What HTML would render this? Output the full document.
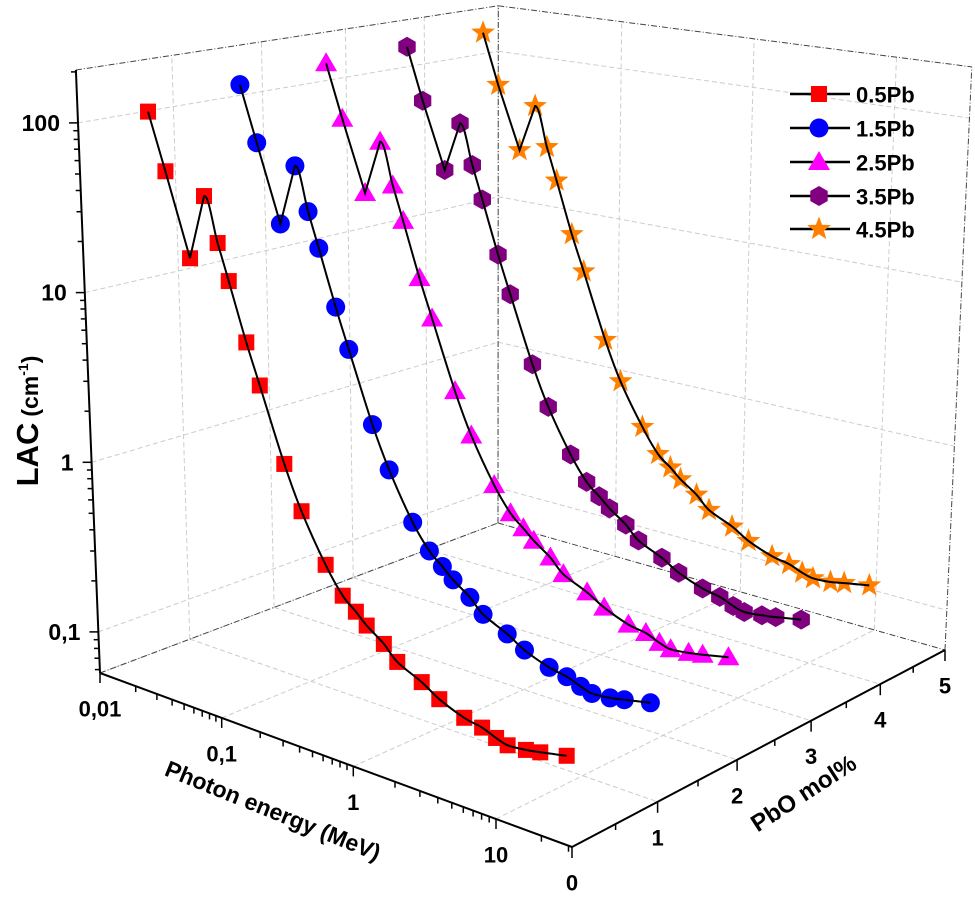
<!DOCTYPE html>
<html><head><meta charset="utf-8"><style>
html,body{margin:0;padding:0;background:#fff;}
svg{display:block;font-family:"Liberation Sans",Arial,sans-serif;}
</style></head><body>
<svg id="chart" width="975" height="901" viewBox="0 0 975 901" xmlns="http://www.w3.org/2000/svg">
<g id="grid"></g>
<g id="edges"></g>
<g id="axes"></g>
<g id="series"></g>
<g id="legend"></g>
<text transform="translate(38,421) rotate(-90)" text-anchor="middle" font-weight="bold"><tspan font-size="31">LAC</tspan><tspan font-size="23" dx="6">(cm</tspan><tspan font-size="14" dy="-10">-1</tspan><tspan font-size="23" dy="10">)</tspan></text>
<text transform="translate(270,818) rotate(22)" text-anchor="middle" font-weight="bold" font-size="23">Photon energy (MeV)</text>
<text transform="translate(808,800) rotate(-33)" text-anchor="middle" font-weight="bold" font-size="24">PbO mol%</text>
</svg>
<script>
const energies = [0.015,0.02,0.03,0.04,0.05,0.06,0.08,0.1,0.15,0.2,0.3,0.4,0.5,0.6,0.8,1,1.5,2,3,4,5,6,8,10,15];
const seriesNames = ["0.5Pb","1.5Pb","2.5Pb","3.5Pb","4.5Pb"];
const seriesPbO = [0.5,1.5,2.5,3.5,4.5];
const lacRed = [110,50.6,16.5,40,22,13.6,6.3,3.7,1.42,0.81,0.44,0.315,0.27,0.236,0.20,0.168,0.144,0.125,0.110,0.105,0.098,0.094,0.096,0.099,0.106];
const lacBlue = [129,59,20,47,25.7,15.9,7.4,4.3,1.66,0.95,0.51,0.37,0.316,0.276,0.234,0.197,0.168,0.146,0.129,0.123,0.115,0.110,0.112,0.116,0.124];
const lacMagenta = [143,66,23.8,52,28.6,17.7,8.2,4.8,1.85,1.05,0.57,0.41,0.35,0.307,0.26,0.218,0.187,0.163,0.143,0.137,0.127,0.122,0.125,0.129,0.138];
const lacPurple = [150,69,25.9,54,30,18.5,8.6,5.0,1.93,1.10,0.60,0.43,0.367,0.321,0.272,0.228,0.196,0.170,0.150,0.143,0.133,0.128,0.131,0.135,0.144];
const lacOrange = [154,71,27.4,56,30.8,19,8.8,5.2,1.99,1.13,0.62,0.44,0.378,0.33,0.28,0.235,0.202,0.175,0.154,0.147,0.137,0.132,0.134,0.139,0.148];
const energyTicks = [0.01,0.1,1,10];
const energyTickLabels = ["0,01","0,1","1","10"];
const lacTicks = [0.1,1,10,100];
const lacTickLabels = ["0,1","1","10","100"];
const pboTicks = [0,1,2,3,4,5];

const NS="http://www.w3.org/2000/svg";
const A=[100,673],B=[572,847],C=[945,650],D=[498,523];
const sx=A[0]-B[0]+C[0]-D[0], sy=A[1]-B[1]+C[1]-D[1];
const dx1=B[0]-C[0], dx2=D[0]-C[0], dy1=B[1]-C[1], dy2=D[1]-C[1];
const den=dx1*dy2-dy1*dx2;
const G=(sx*dy2-sy*dx2)/den, Hh=(dx1*sy-dy1*sx)/den;
const a=B[0]-A[0]+G*B[0], b=D[0]-A[0]+Hh*D[0], c=A[0];
const d=B[1]-A[1]+G*B[1], e=D[1]-A[1]+Hh*D[1], f=A[1];
function P(u,v,t){
  const w=G*u+Hh*v+1;
  const fx=(a*u+b*v+c)/w, fy=(d*u+e*v+f)/w;
  const h=603/w*t;
  return [fx+(fx-493)*0.0001018*h, fy-h];
}
const uE=E=>(Math.log10(E)+2)/3.5;
const vP=p=>p/5;
const tL=L=>(Math.log10(L)+1.242)/3.554;

function el(tag,attrs,parent){const n=document.createElementNS(NS,tag);for(const k in attrs)n.setAttribute(k,attrs[k]);parent.appendChild(n);return n;}
function line(p,q,style,parent,name){
  const n=el('line',{x1:p[0].toFixed(1),y1:p[1].toFixed(1),x2:q[0].toFixed(1),y2:q[1].toFixed(1)},parent);
  for(const k in style)n.setAttribute(k,style[k]);
  
  
  return n;
}
const gridS={stroke:'#cccccc','stroke-width':1,'stroke-dasharray':'5 3'};
const edgeS={stroke:'#444','stroke-width':1,'stroke-dasharray':'6 2 1 2'};
const axisS={stroke:'#000','stroke-width':2};
const gG=document.getElementById('grid'),gE=document.getElementById('edges'),gA=document.getElementById('axes');

energyTicks.forEach(E=>{const u=uE(E);
  line(P(u,0,0),P(u,1,0),gridS,gG,'floor-grid-energy');
  line(P(u,1,0),P(u,1,1),gridS,gG,'back-wall-grid-energy');});
[1,2,3,4].forEach(p=>{const v=vP(p);
  line(P(0,v,0),P(1,v,0),gridS,gG,'floor-grid-pbo');
  line(P(0,v,0),P(0,v,1),gridS,gG,'left-wall-grid-pbo');});
lacTicks.forEach(L=>{const t=tL(L);
  line(P(0,0,t),P(0,1,t),gridS,gG,'left-wall-grid-lac');
  line(P(0,1,t),P(1,1,t),gridS,gG,'back-wall-grid-lac');});
line(P(0,0,0),P(0,1,0),edgeS,gE,'floor-left-edge');
line(P(0,1,0),P(1,1,0),edgeS,gE,'floor-back-edge');
line(P(0,0,1),P(0,1,1),edgeS,gE,'top-left-edge');
line(P(0,1,1),P(1,1,1),edgeS,gE,'top-back-edge');
line(P(0,1,0),P(0,1,1),edgeS,gE,'back-vertical-edge');
line(P(1,1,0),P(1,1,1),edgeS,gE,'right-vertical-edge');
line(P(0,0,0),P(0,0,1),axisS,gA,'y-axis-line');
line(P(0,0,0),P(1,0,0),axisS,gA,'x-axis-line');
line(P(1,0,0),P(1,1,0),axisS,gA,'z-axis-line');
const tickS={stroke:'#000','stroke-width':1.5};
function txt(x,y,s,size,anchor,parent,name){
  const n=el('text',{x:x.toFixed(1),y:y.toFixed(1),'font-size':size,'font-weight':'bold','text-anchor':anchor,'dominant-baseline':'central'},parent);
  n.textContent=s;
  
  
}
for(let dec=-2;dec<=2;dec++){for(let m=1;m<=9;m++){const L=m*Math.pow(10,dec);const t=tL(L);if(t<0||t>1)continue;
  const p=P(0,0,t);line(p,[p[0]-(m===1?9:5),p[1]],tickS,gA,'y-tick');}}
lacTicks.forEach((L,i)=>{const p=P(0,0,tL(L));txt(p[0]-18,p[1],lacTickLabels[i],23,'end',gA,'y-tick-label');});
for(let dec=-2;dec<=1;dec++){for(let m=1;m<=9;m++){const E=m*Math.pow(10,dec);const u=uE(E);if(u<0||u>1)continue;
  const p=P(u,0,0);line(p,[p[0],p[1]+(m===1?10:6)],tickS,gA,'x-tick');}}
energyTicks.forEach((E,i)=>{const p=P(uE(E),0,0);txt(p[0],p[1]+36,energyTickLabels[i],22,'middle',gA,'x-tick-label');});
for(let k=0;k<=10;k++){const p=P(1,vP(k/2),0);line(p,[p[0],p[1]+(k%2===0?11:6)],tickS,gA,'z-tick');}
pboTicks.forEach(pb=>{const p=P(1,vP(pb),0);txt(p[0],p[1]+36,String(pb),22,'middle',gA,'z-tick-label');});

function marker(type,x,y,color,parent,name){
  let n;
  if(type==='square')n=el('rect',{x:x-8,y:y-8,width:16,height:16,fill:color},parent);
  else if(type==='circle')n=el('circle',{cx:x,cy:y,r:9.5,fill:color},parent);
  else if(type==='triangle')n=el('polygon',{points:`${x},${y-11} ${x+11},${y+8} ${x-11},${y+8}`,fill:color},parent);
  else if(type==='hexagon'){let pts=[];for(let k=0;k<6;k++){const an=Math.PI/6+k*Math.PI/3;pts.push((x+10*Math.cos(an)).toFixed(1)+','+(y+10*Math.sin(an)).toFixed(1));}
    n=el('polygon',{points:pts.join(' '),fill:color},parent);}
  else {let pts=[];for(let k=0;k<10;k++){const r=k%2?5.2:12.5;const an=-Math.PI/2+k*Math.PI/5;pts.push((x+r*Math.cos(an)).toFixed(1)+','+(y+r*Math.sin(an)).toFixed(1));}
    n=el('polygon',{points:pts.join(' '),fill:color},parent);}
  
  
  return n;
}
function smoothPath(pts){
  let s='M'+pts[0][0].toFixed(1)+','+pts[0][1].toFixed(1);
  for(let i=0;i<pts.length-1;i++){
    const p0=pts[Math.max(0,i-1)],p1=pts[i],p2=pts[i+1],p3=pts[Math.min(pts.length-1,i+2)];
    const k=i>=3?6:1e9;
    const c1=[p1[0]+(p2[0]-p0[0])/k,p1[1]+(p2[1]-p0[1])/k];
    const c2=[p2[0]-(p3[0]-p1[0])/k,p2[1]-(p3[1]-p1[1])/k];
    s+=` C${c1[0].toFixed(1)},${c1[1].toFixed(1)} ${c2[0].toFixed(1)},${c2[1].toFixed(1)} ${p2[0].toFixed(1)},${p2[1].toFixed(1)}`;
  }
  return s;
}
const seriesData=[lacRed,lacBlue,lacMagenta,lacPurple,lacOrange];
const colors=['#ff0000','#0000ff','#ff00ff','#800080','#ff8000'];
const shapes=['square','circle','triangle','hexagon','star'];
const gS=document.getElementById('series');
for(let s=4;s>=0;s--){
  const g=el('g',{},gS);
  
  
  const pts=energies.map((E,i)=>P(uE(E),vP(seriesPbO[s]),tL(seriesData[s][i])));
  pts.forEach(p=>marker(shapes[s],p[0],p[1],colors[s],g,'point-'+seriesNames[s]));
  const path=el('path',{d:smoothPath(pts),fill:'none',stroke:'#000','stroke-width':2},g);
  
  
}
const gL=document.getElementById('legend');
const legY=[94,128,162,196,229];
for(let s=0;s<5;s++){
  const g=el('g',{},gL);
  
  
  line([790,legY[s]],[850,legY[s]],{stroke:'#000','stroke-width':2.5},g,'legend-line');
  marker(shapes[s],819,legY[s],colors[s],g,'legend-marker');
  txt(856,legY[s]+1,seriesNames[s],22,'start',g,'legend-label');
}
</script>
</body></html>
